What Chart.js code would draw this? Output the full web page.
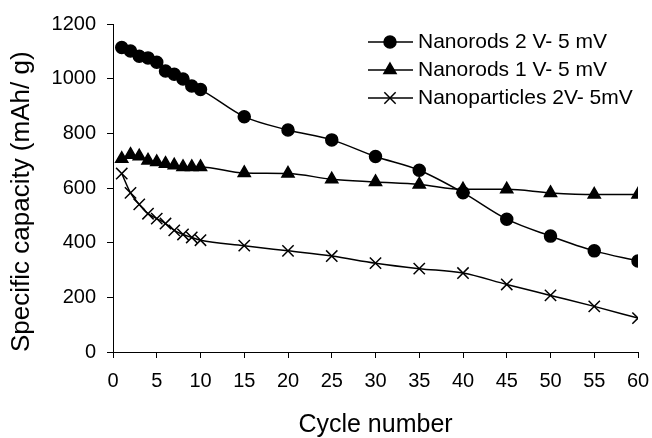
<!DOCTYPE html>
<html>
<head>
<meta charset="utf-8">
<script src="https://cdn.jsdelivr.net/npm/chart.js@4/dist/chart.umd.min.js"></script>
<style>
    html, body { margin: 0; padding: 0; background: #fff; }
    #wrap { width: 652px; height: 438px; }
</style>
</head>
<body>
<div id="wrap"><canvas id="myChart"></canvas></div>
<script>
const cycles = [1, 2, 3, 4, 5, 6, 7, 8, 9, 10, 15, 20, 25, 30, 35, 40, 45, 50, 55, 60];
const rods2V = [1114, 1101, 1082, 1076, 1060, 1028, 1016, 999, 973, 960, 861, 812, 776, 715, 665, 583, 486, 424, 370, 333];
const rods1V = [707, 722, 716, 701, 695, 689, 683, 677, 677, 677, 655, 653, 632, 622, 613, 595, 595, 582, 576, 576];
const particles = [653, 582, 540, 506, 488, 470, 445, 430, 419, 409, 389, 370, 351, 325, 305, 289, 247, 207, 167, 124];
const seriesNames = ['Nanorods 2 V- 5 mV', 'Nanorods 1 V- 5 mV', 'Nanoparticles 2V- 5mV'];
const xTitle = 'Cycle number';
const yTitle = 'Specific capacity (mAh/ g)';

const FONT = 'Arial, "Liberation Sans", sans-serif';

function toPoints(values) {
    return values.map((v, i) => ({ x: cycles[i], y: v }));
}

function makeDataset(label, values, style, radius) {
    return {
        label: label,
        data: toPoints(values),
        borderColor: '#000',
        backgroundColor: '#000',
        borderWidth: 1.5,
        pointStyle: style,
        pointRadius: radius,
        pointBorderWidth: 1.5,
        pointBackgroundColor: '#000',
        pointBorderColor: '#000',
        cubicInterpolationMode: 'monotone',
        fill: false
    };
}

// legend drawn inside the plot, line with marker in the middle
const insideLegend = {
    id: 'insideLegend',
    afterDraw(chart) {
        const ctx = chart.ctx;
        const rows = [42, 70, 98];
        ctx.save();
        chart.data.datasets.forEach((ds, i) => {
            const y = rows[i];
            ctx.strokeStyle = '#000';
            ctx.lineWidth = 1.5;
            ctx.beginPath();
            ctx.moveTo(368, y);
            ctx.lineTo(413, y);
            ctx.stroke();
            Chart.helpers.drawPoint(ctx, {
                pointStyle: ds.pointStyle,
                radius: ds.pointRadius,
                rotation: 0,
                borderWidth: 1.5
            }, 390, y);
            ctx.fillStyle = '#000';
            ctx.font = '21px ' + FONT;
            ctx.textBaseline = 'middle';
            ctx.textAlign = 'left';
            ctx.fillText(ds.label, 418, y);
        });
        ctx.restore();
    }
};

function initGraph() {
    const ctx = document.getElementById('myChart');

    return new Chart(ctx, {
        type: 'line',
        data: {
            datasets: [
                makeDataset(seriesNames[0], rods2V, 'circle', 6),
                makeDataset(seriesNames[1], rods1V, 'triangle', 7),
                makeDataset(seriesNames[2], particles, 'crossRot', 8)
            ]
        },
        options: {
            responsive: true,
            maintainAspectRatio: false,
            animation: false,
            layout: {
                padding: { top: 24, right: 14, left: 0, bottom: 0 }
            },
            plugins: {
                legend: { display: false },
                tooltip: { enabled: false }
            },
            scales: {
                x: {
                    type: 'linear',
                    min: 0,
                    max: 60,
                    afterFit: scale => {
                        scale.height = 86;
                        scale.paddingLeft = 0;
                        scale.paddingRight = 0;
                    },
                    ticks: {
                        stepSize: 5,
                        color: '#000',
                        padding: 11,
                        font: { family: FONT, size: 20 },
                        callback: v => String(v)
                    },
                    grid: {
                        drawOnChartArea: false,
                        drawTicks: true,
                        tickLength: 6,
                        color: '#000'
                    },
                    border: { color: '#000', width: 1 },
                    title: {
                        display: true,
                        text: xTitle,
                        color: '#000',
                        font: { family: FONT, size: 25, lineHeight: 1 },
                        padding: { top: 0, bottom: 0 }
                    }
                },
                y: {
                    min: 0,
                    max: 1200,
                    afterFit: scale => { scale.width = 113; },
                    ticks: {
                        stepSize: 200,
                        color: '#000',
                        padding: 11,
                        font: { family: FONT, size: 20 },
                        callback: v => String(v)
                    },
                    grid: {
                        drawOnChartArea: false,
                        drawTicks: true,
                        tickLength: 6,
                        color: '#000'
                    },
                    border: { color: '#000', width: 1 },
                    title: {
                        display: true,
                        text: yTitle,
                        align: 'start',
                        color: '#000',
                        font: { family: FONT, size: 26, lineHeight: 1 },
                        padding: { top: 9, bottom: 0 }
                    }
                }
            }
        },
        plugins: [insideLegend]
    });
}

const capacityChart = initGraph();
</script>
</body>
</html>
